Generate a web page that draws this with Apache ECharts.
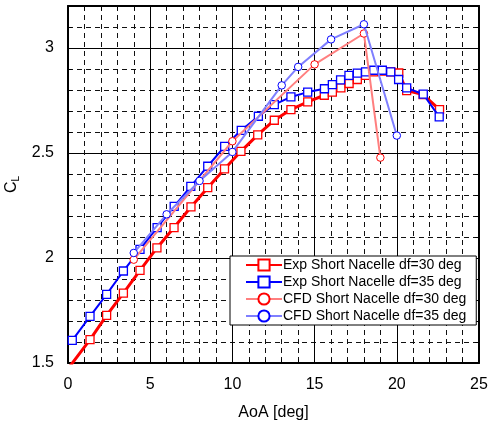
<!DOCTYPE html>
<html>
<head>
<meta charset="utf-8">
<script src="https://cdn.jsdelivr.net/npm/echarts@6/dist/echarts.min.js"></script>
<style>html,body{margin:0;padding:0;background:#fff;}#c{width:488px;height:425px;}</style>
</head>
<body>
<div id="c"></div>
<script>
const seriesNames = ['Exp Short Nacelle df=30 deg','Exp Short Nacelle df=35 deg','CFD Short Nacelle df=30 deg','CFD Short Nacelle df=35 deg'];
const expAoa30 = [-0.7, 1.34, 2.35, 3.37, 4.38, 5.41, 6.45, 7.48, 8.5, 9.52, 10.52, 11.54, 12.55, 13.56, 14.58, 15.59, 16.08, 16.6, 17.1, 17.6, 18.1, 18.6, 19.12, 19.63, 20.12, 20.6, 21.6, 22.6];
const expCl30  = [1.40, 1.611, 1.727, 1.833, 1.941, 2.048, 2.145, 2.243, 2.335, 2.424, 2.508, 2.586, 2.656, 2.707, 2.743, 2.775, 2.79, 2.81, 2.831, 2.85, 2.87, 2.886, 2.89, 2.886, 2.881, 2.797, 2.778, 2.707];
const expAoa35 = [0.26, 1.34, 2.35, 3.37, 4.38, 5.42, 6.46, 7.47, 8.5, 9.53, 10.54, 11.58, 12.55, 13.56, 14.58, 15.6, 16.08, 16.58, 17.09, 17.6, 18.1, 18.6, 19.12, 19.63, 20.11, 20.6, 21.61, 22.58];
const expCl35  = [1.608, 1.722, 1.827, 1.938, 2.041, 2.145, 2.246, 2.341, 2.437, 2.532, 2.608, 2.675, 2.73, 2.767, 2.79, 2.806, 2.826, 2.848, 2.87, 2.88, 2.886, 2.894, 2.894, 2.886, 2.85, 2.81, 2.78, 2.672];
const cfdAoa30 = [4, 10, 15, 18, 19];
const cfdCl30  = [1.992, 2.556, 2.922, 3.069, 2.478];
const cfdAoa35 = [4, 6, 8, 10, 13, 14, 16, 18, 20];
const cfdCl35  = [2.024, 2.208, 2.367, 2.505, 2.822, 2.91, 3.041, 3.113, 2.583];
const xTicks = [0, 5, 10, 15, 20, 25];
const yTicks = [1.5, 2, 2.5, 3];

const zip = (a, b) => a.map((v, i) => [v, b[i]]);
const font = 'Liberation Sans, Arial, sans-serif';
const dash = { type: [5, 4], color: '#111', width: 1 };

function xAx(pos, show) {
  return {
    type: 'value', position: pos, min: 0, max: 25, interval: 5,
    axisLine: { show: true, onZero: false, lineStyle: { color: '#000', width: 2 } },
    axisTick: { show: true, inside: true, length: 5, lineStyle: { color: '#000' } },
    minorTick: { show: true, splitNumber: 5, length: 4, lineStyle: { color: '#000' } },
    axisLabel: { show: show, color: '#000', fontFamily: font, fontSize: 16, margin: 14,
      formatter: v => xTicks.includes(v) ? String(v) : '' },
    splitLine: { show: show, lineStyle: { color: '#000', width: 1 } },
    minorSplitLine: { show: show, lineStyle: dash },
    name: show ? 'AoA [deg]' : '', nameLocation: 'middle', nameGap: 42,
    nameTextStyle: { color: '#000', fontFamily: font, fontSize: 16 }
  };
}
function yAx(pos, show) {
  return {
    type: 'value', position: pos, min: 1.5, max: 3.2, interval: 0.5,
    axisLine: { show: true, onZero: false, lineStyle: { color: '#000', width: 2 } },
    axisTick: { show: true, inside: true, length: 5, lineStyle: { color: '#000' } },
    minorTick: { show: true, splitNumber: 5, length: 4, lineStyle: { color: '#000' } },
    axisLabel: { show: show, color: '#000', fontFamily: font, fontSize: 16, margin: 14,
      formatter: v => { const t = yTicks.find(k => Math.abs(k - v) < 1e-6); return t === undefined ? '' : String(t); } },
    splitLine: { show: show, lineStyle: { color: '#000', width: 1 } },
    minorSplitLine: { show: show, lineStyle: dash },
    name: show ? '{c|C}{s|L}' : '', nameLocation: 'middle', nameGap: 44, nameRotate: 90,
    nameTextStyle: { color: '#000', fontFamily: font, rich: {
      c: { fontSize: 16, fontFamily: font, color: '#000' },
      s: { fontSize: 10, fontFamily: font, color: '#000', verticalAlign: 'bottom', padding: [8, 0, 0, 0] } } }
  };
}

const chart = echarts.init(document.getElementById('c'), null, { renderer: 'canvas' });
chart.setOption({
  animation: false,
  backgroundColor: '#fff',
  grid: { left: 68, right: 9, top: 6, bottom: 62, containLabel: false, outerBoundsMode: 'none' },
  xAxis: [xAx('bottom', true), xAx('top', false)],
  yAxis: [yAx('left', true), yAx('right', false)],
  legend: {
    show: true, orient: 'vertical', left: 230, top: 256,
    backgroundColor: '#fff', borderColor: '#000', borderWidth: 1, borderRadius: 0,
    padding: [2, 10, 2, 15], itemGap: 3, itemWidth: 36, itemHeight: 14,
    textStyle: { color: '#000', fontFamily: font, fontSize: 14, padding: [0, 0, 0, -4] },
    data: seriesNames
  },
  series: [
    { name: seriesNames[0], type: 'line', clip: true, data: zip(expAoa30, expCl30),
      lineStyle: { color: '#ff0000', width: 3 }, itemStyle: { color: '#fff', borderColor: '#ff0000', borderWidth: 1.3 },
      symbol: 'rect', symbolSize: 8, showAllSymbol: true, z: 2 },
    { name: seriesNames[1], type: 'line', clip: true, data: zip(expAoa35, expCl35),
      lineStyle: { color: '#0000ff', width: 2 }, itemStyle: { color: '#fff', borderColor: '#0000ff', borderWidth: 1.3 },
      symbol: 'rect', symbolSize: 8, showAllSymbol: true, z: 3 },
    { name: seriesNames[2], type: 'line', clip: true, data: zip(cfdAoa30, cfdCl30),
      lineStyle: { color: '#ff7f7f', width: 2 }, itemStyle: { color: '#fff', borderColor: '#ff0000', borderWidth: 1 },
      symbol: 'circle', symbolSize: 7.5, showAllSymbol: true, z: 4 },
    { name: seriesNames[3], type: 'line', clip: true, data: zip(cfdAoa35, cfdCl35),
      lineStyle: { color: '#7f7fff', width: 2 }, itemStyle: { color: '#fff', borderColor: '#0000ff', borderWidth: 1 },
      symbol: 'circle', symbolSize: 7.5, showAllSymbol: true, z: 5 }
  ]
});
</script>
</body>
</html>
